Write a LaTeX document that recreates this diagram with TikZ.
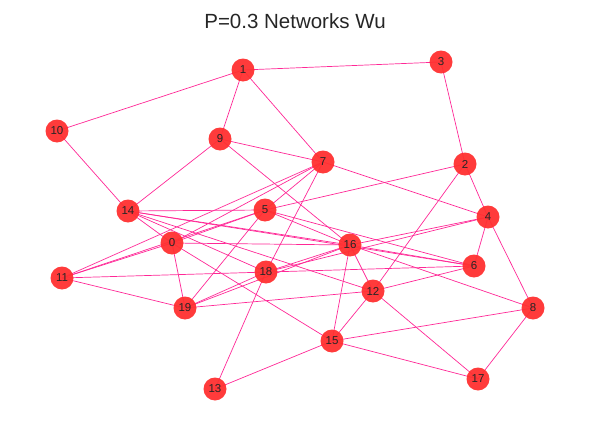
\documentclass[tikz,border=0pt]{standalone}
\usepackage{fontspec}
\setmainfont{Liberation Sans}
\definecolor{nodered}{RGB}{255,48,48}
\definecolor{edgepink}{RGB}{255,40,150}
\begin{document}
\begin{tikzpicture}[x=1pt,y=-1pt,
  vtx/.style={circle,fill=nodered,fill opacity=0.95,text opacity=1,minimum size=23pt,inner sep=0pt,font=\fontsize{11.5}{13}\selectfont,text=black!85},
  edge/.style={draw=edgepink,line width=0.7pt}]
\useasboundingbox (0,0) rectangle (590,431);
\node[font=\fontsize{20.5}{24}\selectfont,text=black!85] (title) at (295,21) {P=0.3 Networks Wu};
\coordinate (p0) at (172,243);
\coordinate (p1) at (243,70);
\coordinate (p2) at (465,164);
\coordinate (p3) at (441,62);
\coordinate (p4) at (488,217);
\coordinate (p5) at (265,210);
\coordinate (p6) at (474,266);
\coordinate (p7) at (323,162);
\coordinate (p8) at (533,308);
\coordinate (p9) at (220,139);
\coordinate (p10) at (57,131);
\coordinate (p11) at (62,278);
\coordinate (p12) at (373,291);
\coordinate (p13) at (215,389);
\coordinate (p14) at (128,211);
\coordinate (p15) at (332,341);
\coordinate (p16) at (350,245);
\coordinate (p17) at (478,379);
\coordinate (p18) at (266,272);
\coordinate (p19) at (185,308);
\foreach \a/\b in {1/3,1/10,1/9,1/7,3/2,2/4,2/5,2/12,9/7,9/14,9/16,10/14,7/4,7/0,7/11,7/5,7/18,
  5/14,5/19,5/0,5/11,5/16,5/6,14/0,14/18,14/12,14/16,14/6,0/16,0/19,0/15,0/11,11/6,11/19,
  19/18,19/16,19/12,18/13,18/16,18/4,16/15,16/12,16/6,16/8,16/4,12/6,12/15,12/17,15/8,15/17,15/13,
  4/6,4/8,8/17}
  \draw[edge] (p\a) -- (p\b);
\foreach \i in {0,...,19}
  \node[vtx] (n\i) at (p\i) {\i};
\end{tikzpicture}
\end{document}
